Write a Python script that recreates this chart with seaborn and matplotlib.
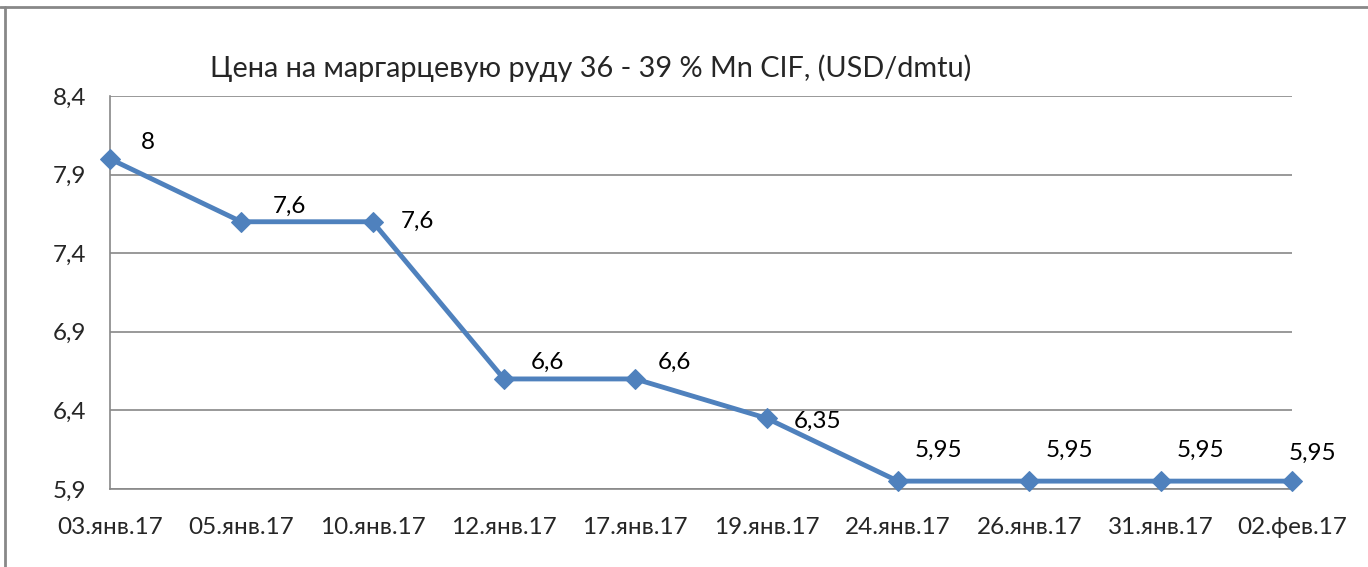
import matplotlib
matplotlib.use("Agg")
import matplotlib.pyplot as plt
import seaborn as sns
import pandas as pd

# data
dates = ["03.янв.17", "05.янв.17", "10.янв.17", "12.янв.17", "17.янв.17",
         "19.янв.17", "24.янв.17", "26.янв.17", "31.янв.17", "02.фев.17"]
prices = [8, 7.6, 7.6, 6.6, 6.6, 6.35, 5.95, 5.95, 5.95, 5.95]
price_labels = ["8", "7,6", "7,6", "6,6", "6,6", "6,35", "5,95", "5,95", "5,95", "5,95"]
y_ticks = [5.9, 6.4, 6.9, 7.4, 7.9, 8.4]
y_tick_labels = ["5,9", "6,4", "6,9", "7,4", "7,9", "8,4"]
title = "Цена на маргарцевую руду 36 - 39 % Mn CIF, (USD/dmtu)"

# label offsets in points (dx, dy), as placed in the original
label_offsets = [(27, 12), (35, 11), (32, 0), (31, 12), (28, 12),
                 (37, -2), (29, 22), (29, 22), (29, 22), (15, 20)]

sns.set_theme(style="white")
plt.rcParams['font.family'] = ['Lato', 'DejaVu Sans']

df = pd.DataFrame({"idx": range(len(dates)), "price": prices})

fig = plt.figure(figsize=(13.68, 5.67), dpi=100)
ax = fig.add_axes([0.0804, 0.1376, 0.864, 0.6931])

line_color = "#4F81BD"
grid_color = "#888888"
fs = 17.5

for yv in y_ticks:
    ax.axhline(yv, color=grid_color, lw=1.2, zorder=0)

sns.lineplot(data=df, x="idx", y="price", ax=ax, color=line_color, lw=3.5,
             marker="D", markersize=10, markeredgecolor=line_color, clip_on=False, zorder=3)

for i, (v, lab) in enumerate(zip(prices, price_labels)):
    dx, dy = label_offsets[i]
    ax.annotate(lab, (i, v), xytext=(dx, dy), textcoords="offset points",
                ha="center", va="center", fontsize=fs, color="black")

ax.set_xlim(0, len(dates) - 1)
ax.set_ylim(5.9, 8.4)
ax.set_xticks(range(len(dates)))
ax.set_xticklabels(dates, fontsize=fs)
ax.set_yticks(y_ticks)
ax.set_yticklabels(y_tick_labels, fontsize=fs)
ax.tick_params(axis="x", length=0, pad=20)
ax.tick_params(axis="y", length=0, pad=17)
ax.set_xlabel("")
ax.set_ylabel("")

for side in ["top", "right"]:
    ax.spines[side].set_visible(False)
for side in ["left", "bottom"]:
    ax.spines[side].set_color(grid_color)
    ax.spines[side].set_linewidth(1.2)

fig.text(210 / 1368, 1 - 68 / 567, title, fontsize=20.8, ha="left", va="center")

# outer chart border (top and left visible in the crop)
fig.add_artist(plt.Line2D([0, 1], [1 - 7 / 567, 1 - 7 / 567], color=grid_color, lw=2,
                          transform=fig.transFigure))
fig.add_artist(plt.Line2D([5 / 1368, 5 / 1368], [0, 1 - 7 / 567], color=grid_color, lw=2,
                          transform=fig.transFigure))

fig.savefig("out.png", dpi=100)
